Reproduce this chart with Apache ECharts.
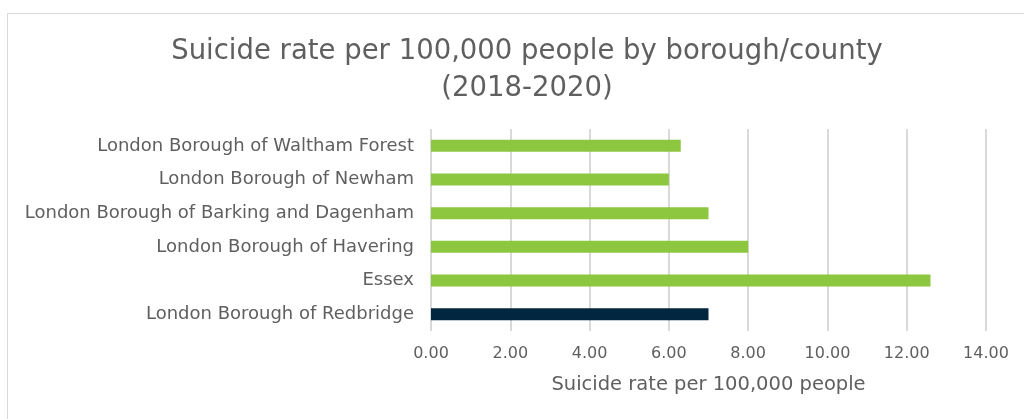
<!DOCTYPE html>
<html><head><meta charset="utf-8">
<script src="https://cdn.jsdelivr.net/npm/echarts@6/dist/echarts.min.js"></script>
<style>html,body{margin:0;padding:0;background:#fff}#c{width:1024px;height:419px}
#frame{position:absolute;left:7px;top:13px;width:1030px;height:420px;border:1.5px solid #d9d9d9;box-sizing:border-box;pointer-events:none}</style>
</head><body><div id="c"></div><div id="frame"></div>
<script>
const categories = ["London Borough of Redbridge","Essex","London Borough of Havering","London Borough of Barking and Dagenham","London Borough of Newham","London Borough of Waltham Forest"];
const values = [7.0, 12.6, 8.0, 7.0, 6.0, 6.3];
const barColors = ["#032640","#8dc63f","#8dc63f","#8dc63f","#8dc63f","#8dc63f"];
const titleText = "Suicide rate per 100,000 people by borough/county\n(2018-2020)";
const xAxisName = "Suicide rate per 100,000 people";

const chart = echarts.init(document.getElementById('c'), null, {renderer:'canvas'});
const font = "'DejaVu Sans', sans-serif";
chart.setOption({
  animation:false,
  title:{text:titleText,left:522,textAlign:'center',top:28,
    textStyle:{fontFamily:font,fontSize:27.5,fontWeight:'normal',color:'#5f5f5f',lineHeight:37}},
  grid:{left:431,right:38,top:129,bottom:88,containLabel:false},
  xAxis:{type:'value',min:0,max:14,interval:2,
    name:xAxisName,nameLocation:'middle',nameGap:44,
    nameTextStyle:{fontFamily:font,fontSize:19.5,color:'#5f5f5f'},
    axisLabel:{fontFamily:font,fontSize:16,color:'#5f5f5f',margin:15,formatter:v=>v.toFixed(2)},
    axisLine:{show:false},axisTick:{show:false},
    splitLine:{show:true,lineStyle:{color:'#d9d9d9',width:2}}},
  yAxis:{type:'category',data:categories,
    axisLabel:{fontFamily:font,fontSize:18,color:'#5f5f5f',margin:17},
    axisLine:{show:false},axisTick:{show:false}},
  series:[{type:'bar',data:values.map((v,i)=>({value:v,itemStyle:{color:barColors[i]}})),barWidth:12}]
});
</script></body></html>
